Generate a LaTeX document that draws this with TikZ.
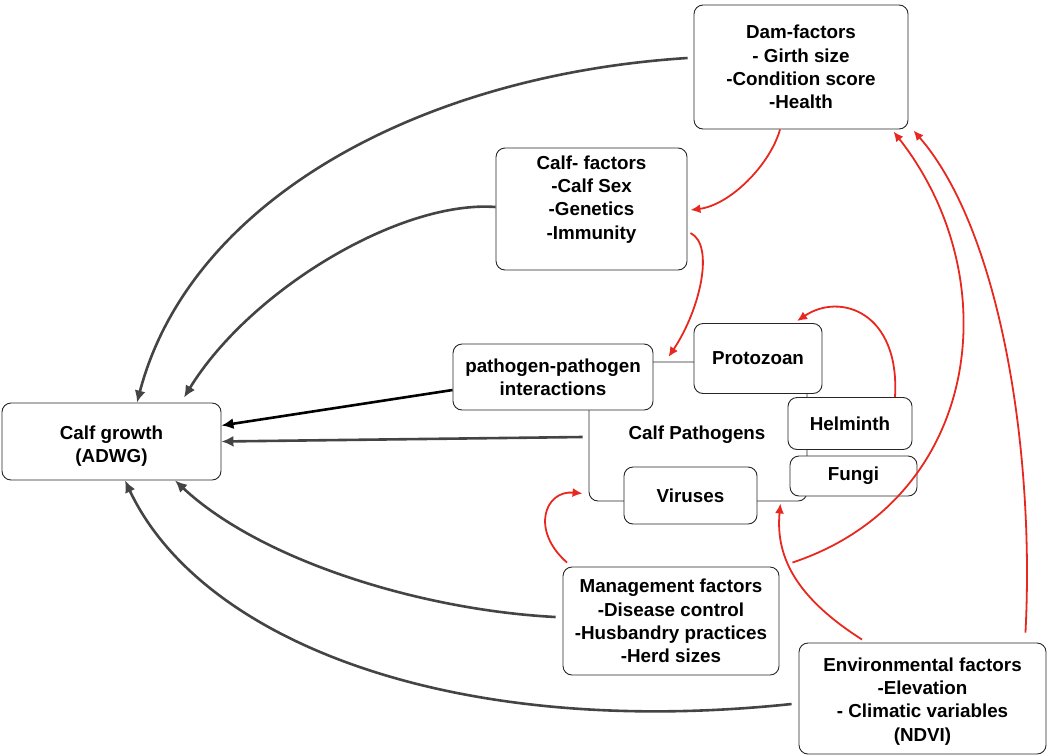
\documentclass[tikz,border=0pt]{standalone}
\usepackage{fontspec}
\setmainfont{Liberation Sans}
\usetikzlibrary{arrows.meta}
\definecolor{linegray}{HTML}{444444}
\definecolor{linkred}{HTML}{E8281E}
\begin{document}
\begin{tikzpicture}[x=1pt,y=-1pt]
    \tikzstyle{every node}+=[font=\bfseries\fontsize{18.8}{23.2}\selectfont, align=center, inner sep=0pt]
    \tikzstyle{box}=[draw=black!85, line width=0.9pt, rounded corners=9pt, fill=white]
    \tikzstyle{grayarrow}=[draw=linegray, line width=2.6pt, -{Latex[length=12pt,width=11pt]}]
    \tikzstyle{redarrow}=[draw=linkred, line width=1.8pt, -{Latex[length=10pt,width=9pt]}]
    \useasboundingbox (0,0) rectangle (1048,755);
    % pathogen group
    \node [box, minimum width=218, minimum height=139] (pathogens) at (698,431.5) {};
    \node (pathlabel) at (697,435) {Calf Pathogens};
    \node [box, minimum width=200, minimum height=66] (ppi) at (553,377) {pathogen-pathogen\\interactions};
    \node [box, minimum width=128, minimum height=70] (protozoan) at (758,358.5) {Protozoan};
    \node [box, minimum width=124, minimum height=52] (helminth) at (850,423.5) {Helminth};
    \node [box, minimum width=127, minimum height=40] (fungi) at (853.5,476) {Fungi};
    \node [box, minimum width=133, minimum height=57] (viruses) at (690.5,495.5) {Viruses};
    % factors
    \node [box, minimum width=214, minimum height=124] (dam) at (801,67) {Dam-factors\\- Girth size\\-Condition score\\-Health};
    \node [box, minimum width=191, minimum height=122] (calf) at (591.5,209) {};
    \node (calftext) at (591.5,199.5) {Calf- factors\\-Calf Sex\\-Genetics\\-Immunity};
    \node [box, minimum width=219, minimum height=77] (growth) at (111.5,441.5) {};
    \node (growthtext) at (111.5,446) {Calf growth\\(ADWG)};
    \node [box, minimum width=216, minimum height=108] (mgmt) at (671,621) {Management factors\\-Disease control\\-Husbandry practices\\-Herd sizes};
    \node [box, minimum width=247, minimum height=111] (env) at (922.5,698.5) {};
    \node (envtext) at (922.5,701.5) {Environmental factors\\-Elevation\\- Climatic variables\\(NDVI)};
    % effects on growth
    \draw [grayarrow] ([shift={(-6,-9)}]dam.west) .. controls (420,75) and (190,200) .. ([xshift=25.5]growth.north);
    \draw [grayarrow] ([shift={(0,-2)}]calf.west) .. controls (400,200) and (250,290) .. ([shift={(72.5,-5)}]growth.north);
    \draw [draw=black, line width=2.6pt, -{Latex[length=12pt,width=11pt]}] ([yshift=-13]ppi.west) -- ([yshift=16]growth.east);
    \draw [grayarrow] ([shift={(-6,5.5)}]pathogens.west) -- (growth.east);
    \draw [grayarrow] ([shift={(-7,-4)}]mgmt.west) .. controls (420,610) and (260,560) .. ([xshift=63.5]growth.south);
    \draw [grayarrow] ([shift={(-7,5.5)}]env.west) .. controls (450,740) and (200,640) .. ([xshift=13.5]growth.south);
    % red links
    \draw [redarrow] ([xshift=-21]dam.south) .. controls (770,165) and (730,205) .. ([shift={(3,1)}]calf.east);
    \draw [redarrow] ([shift={(3,24)}]calf.east) .. controls (715,245) and (700,310) .. ([shift={(15,-20)}]ppi.east);
    \draw [redarrow] ([xshift=45]helminth.north) .. controls (900,312) and (840,292) .. ([shift={(39,-2)}]protozoan.north);
    \draw [redarrow] ([shift={(-104,-4)}]mgmt.north) .. controls (530,530) and (545,490) .. ([shift={(-6,-8)}]pathogens.south west);
    \draw [redarrow] ([shift={(-60.5,-3)}]env.north) .. controls (800,600) and (775,560) .. ([shift={(-27,2)}]pathogens.south east);
    \draw [redarrow] ([shift={(13,-4)}]mgmt.north east) .. controls (980,500) and (1010,280) .. ([shift={(-15,2)}]dam.south east);
    \draw [redarrow] ([shift={(-21,-10)}]env.north east) .. controls (1035,450) and (1000,230) .. ([shift={(5,1)}]dam.south east);
\end{tikzpicture}
\end{document}
